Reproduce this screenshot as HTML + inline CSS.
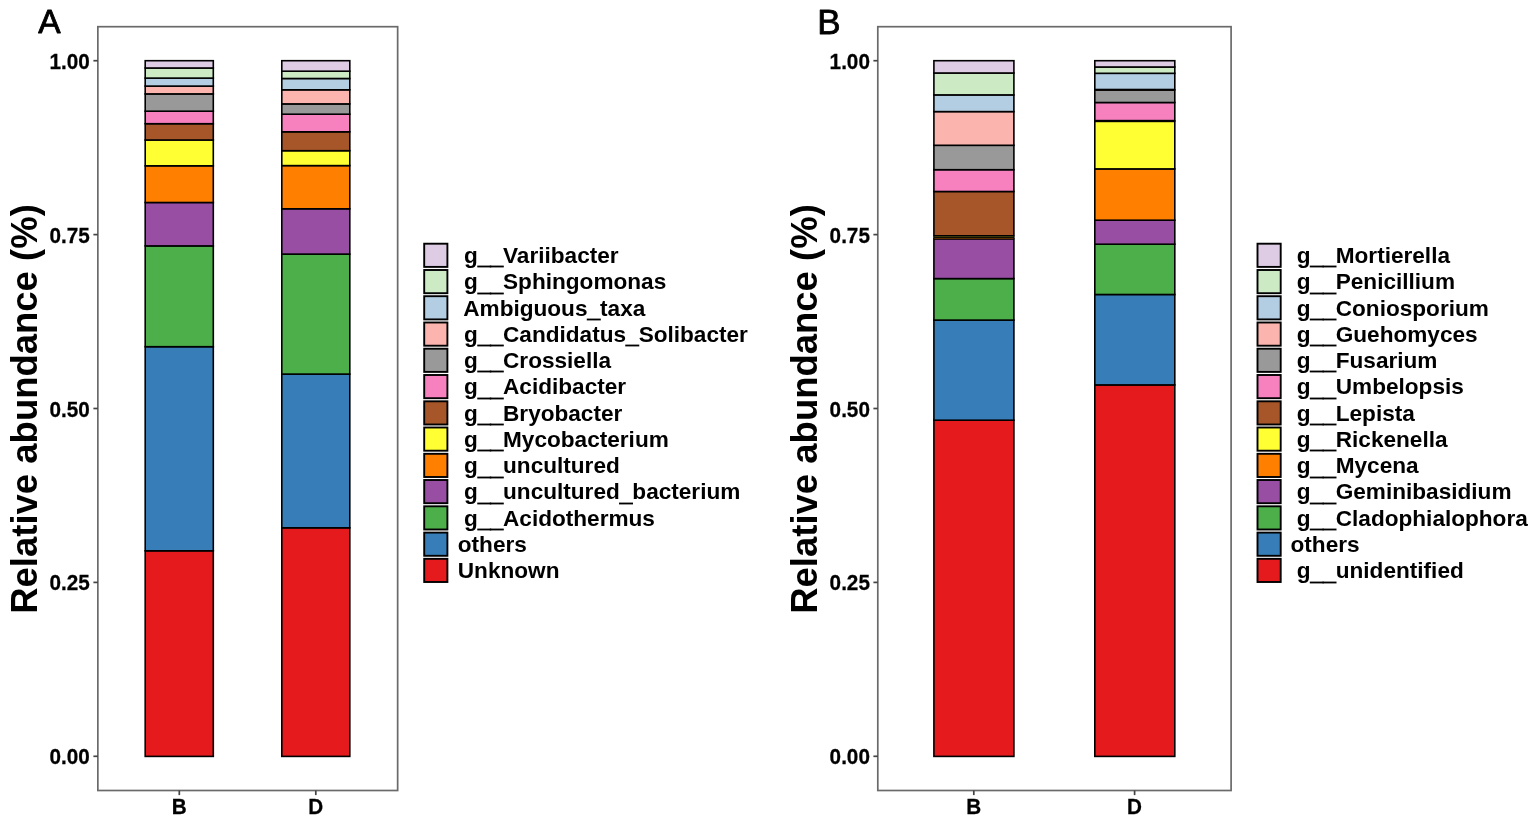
<!DOCTYPE html>
<html lang="en">
<head>
<meta charset="utf-8">
<title>Relative abundance</title>
<style>
html,body{margin:0;padding:0;background:#fff;}
body{width:1535px;height:826px;overflow:hidden;}
svg{display:block;filter:blur(0.3px);}
text{font-family:'Liberation Sans', sans-serif;fill:#000;}
.b{font-weight:bold;}
.lab{stroke:#000;stroke-width:0.8;stroke-linejoin:round;}
.tl{stroke:#000;stroke-width:0.25;}
.us{stroke:#000;stroke-width:1.0;}
.bar rect{stroke:#000;stroke-width:1.6;stroke-linejoin:miter;}
.key rect{stroke:#000;stroke-width:1.9;}
.tk{stroke:#444;stroke-width:1.7;fill:none;}
.pb{stroke:#6a6a6a;stroke-width:1.7;fill:none;}
</style>
</head>
<body>
<svg width="1535" height="826" viewBox="0 0 1535 826">
<rect x="0" y="0" width="1535" height="826" fill="#ffffff"/>

<g>
<text class="lab" font-size="33.5" x="38.3" y="33.4">A</text>
<text class="b" font-size="36.5" text-anchor="middle" transform="translate(36.6,409.0) rotate(-90) scale(1,1.011)">Relative abundance (%)</text>
<rect class="pb" x="97.85" y="26.7" width="299.8" height="763.8"/>
<line class="tk" x1="93.4" x2="97.85" y1="60.7" y2="60.7"/>
<text class="b tl" font-size="20.7" text-anchor="end" transform="translate(89.7,68.7) scale(1,1.1)">1.00</text>
<line class="tk" x1="93.4" x2="97.85" y1="234.6" y2="234.6"/>
<text class="b tl" font-size="20.7" text-anchor="end" transform="translate(89.7,242.6) scale(1,1.1)">0.75</text>
<line class="tk" x1="93.4" x2="97.85" y1="408.5" y2="408.5"/>
<text class="b tl" font-size="20.7" text-anchor="end" transform="translate(89.7,416.5) scale(1,1.1)">0.50</text>
<line class="tk" x1="93.4" x2="97.85" y1="582.4" y2="582.4"/>
<text class="b tl" font-size="20.7" text-anchor="end" transform="translate(89.7,590.4) scale(1,1.1)">0.25</text>
<line class="tk" x1="93.4" x2="97.85" y1="756.3" y2="756.3"/>
<text class="b tl" font-size="20.7" text-anchor="end" transform="translate(89.7,764.3) scale(1,1.1)">0.00</text>
<line class="tk" x1="179.3" x2="179.3" y1="790.5" y2="795.1"/>
<text class="b tl" font-size="20.7" text-anchor="middle" transform="translate(179.3,813.7) scale(1,1.1)">B</text>
<line class="tk" x1="315.8" x2="315.8" y1="790.5" y2="795.1"/>
<text class="b tl" font-size="20.7" text-anchor="middle" transform="translate(315.8,813.7) scale(1,1.1)">D</text>
<g class="bar">
<rect x="145.2" y="550.8" width="68.1" height="205.60" fill="#E41A1C"/>
<rect x="145.2" y="346.7" width="68.1" height="204.10" fill="#377EB8"/>
<rect x="145.2" y="245.9" width="68.1" height="100.80" fill="#4DAF4A"/>
<rect x="145.2" y="202.5" width="68.1" height="43.40" fill="#984EA3"/>
<rect x="145.2" y="165.8" width="68.1" height="36.70" fill="#FF7F00"/>
<rect x="145.2" y="140.0" width="68.1" height="25.80" fill="#FFFF33"/>
<rect x="145.2" y="123.7" width="68.1" height="16.30" fill="#A65628"/>
<rect x="145.2" y="111.2" width="68.1" height="12.50" fill="#F781BF"/>
<rect x="145.2" y="93.9" width="68.1" height="17.30" fill="#999999"/>
<rect x="145.2" y="86.1" width="68.1" height="7.80" fill="#FBB4AE"/>
<rect x="145.2" y="78.1" width="68.1" height="8.00" fill="#B3CDE3"/>
<rect x="145.2" y="68.0" width="68.1" height="10.10" fill="#CCEBC5"/>
<rect x="145.2" y="60.7" width="68.1" height="7.30" fill="#DECBE4"/>
</g>
<g class="bar">
<rect x="281.8" y="527.8" width="68.0" height="228.60" fill="#E41A1C"/>
<rect x="281.8" y="374.1" width="68.0" height="153.70" fill="#377EB8"/>
<rect x="281.8" y="254.1" width="68.0" height="120.00" fill="#4DAF4A"/>
<rect x="281.8" y="208.8" width="68.0" height="45.30" fill="#984EA3"/>
<rect x="281.8" y="165.6" width="68.0" height="43.20" fill="#FF7F00"/>
<rect x="281.8" y="150.7" width="68.0" height="14.90" fill="#FFFF33"/>
<rect x="281.8" y="131.8" width="68.0" height="18.90" fill="#A65628"/>
<rect x="281.8" y="114.2" width="68.0" height="17.60" fill="#F781BF"/>
<rect x="281.8" y="103.9" width="68.0" height="10.30" fill="#999999"/>
<rect x="281.8" y="89.8" width="68.0" height="14.10" fill="#FBB4AE"/>
<rect x="281.8" y="78.5" width="68.0" height="11.30" fill="#B3CDE3"/>
<rect x="281.8" y="71.2" width="68.0" height="7.30" fill="#CCEBC5"/>
<rect x="281.8" y="60.7" width="68.0" height="10.50" fill="#DECBE4"/>
</g>
<g class="key">
<rect x="424.2" y="243.7" width="23.2" height="23.2" fill="#DECBE4"/>
<text class="b" font-size="22.6" x="457.8" y="263.1" xml:space="preserve"> g<tspan class="us" dy="1.3">__</tspan><tspan dy="-1.3">Variibacter</tspan></text>
<rect x="424.2" y="270.0" width="23.2" height="23.2" fill="#CCEBC5"/>
<text class="b" font-size="22.6" x="457.8" y="289.4" xml:space="preserve"> g<tspan class="us" dy="1.3">__</tspan><tspan dy="-1.3">Sphingomonas</tspan></text>
<rect x="424.2" y="296.2" width="23.2" height="23.2" fill="#B3CDE3"/>
<text class="b" font-size="22.6" x="457.8" y="315.6" xml:space="preserve"> Ambiguous<tspan class="us" dy="1.3">_</tspan><tspan dy="-1.3">taxa</tspan></text>
<rect x="424.2" y="322.5" width="23.2" height="23.2" fill="#FBB4AE"/>
<text class="b" font-size="22.6" x="457.8" y="341.9" xml:space="preserve"> g<tspan class="us" dy="1.3">__</tspan><tspan dy="-1.3">Candidatus</tspan><tspan class="us" dy="1.3">_</tspan><tspan dy="-1.3">Solibacter</tspan></text>
<rect x="424.2" y="348.7" width="23.2" height="23.2" fill="#999999"/>
<text class="b" font-size="22.6" x="457.8" y="368.1" xml:space="preserve"> g<tspan class="us" dy="1.3">__</tspan><tspan dy="-1.3">Crossiella</tspan></text>
<rect x="424.2" y="375.0" width="23.2" height="23.2" fill="#F781BF"/>
<text class="b" font-size="22.6" x="457.8" y="394.4" xml:space="preserve"> g<tspan class="us" dy="1.3">__</tspan><tspan dy="-1.3">Acidibacter</tspan></text>
<rect x="424.2" y="401.3" width="23.2" height="23.2" fill="#A65628"/>
<text class="b" font-size="22.6" x="457.8" y="420.7" xml:space="preserve"> g<tspan class="us" dy="1.3">__</tspan><tspan dy="-1.3">Bryobacter</tspan></text>
<rect x="424.2" y="427.5" width="23.2" height="23.2" fill="#FFFF33"/>
<text class="b" font-size="22.6" x="457.8" y="446.9" xml:space="preserve"> g<tspan class="us" dy="1.3">__</tspan><tspan dy="-1.3">Mycobacterium</tspan></text>
<rect x="424.2" y="453.8" width="23.2" height="23.2" fill="#FF7F00"/>
<text class="b" font-size="22.6" x="457.8" y="473.2" xml:space="preserve"> g<tspan class="us" dy="1.3">__</tspan><tspan dy="-1.3">uncultured</tspan></text>
<rect x="424.2" y="480.0" width="23.2" height="23.2" fill="#984EA3"/>
<text class="b" font-size="22.6" x="457.8" y="499.4" xml:space="preserve"> g<tspan class="us" dy="1.3">__</tspan><tspan dy="-1.3">uncultured</tspan><tspan class="us" dy="1.3">_</tspan><tspan dy="-1.3">bacterium</tspan></text>
<rect x="424.2" y="506.3" width="23.2" height="23.2" fill="#4DAF4A"/>
<text class="b" font-size="22.6" x="457.8" y="525.7" xml:space="preserve"> g<tspan class="us" dy="1.3">__</tspan><tspan dy="-1.3">Acidothermus</tspan></text>
<rect x="424.2" y="532.6" width="23.2" height="23.2" fill="#377EB8"/>
<text class="b" font-size="22.6" x="457.8" y="552.0" xml:space="preserve">others</text>
<rect x="424.2" y="558.8" width="23.2" height="23.2" fill="#E41A1C"/>
<text class="b" font-size="22.6" x="457.8" y="578.2" xml:space="preserve">Unknown</text>
</g>
</g>
<g>
<text class="lab" font-size="35.0" x="817.2" y="34.3">B</text>
<text class="b" font-size="36.5" text-anchor="middle" transform="translate(816.6,409.0) rotate(-90) scale(1,1.011)">Relative abundance (%)</text>
<rect class="pb" x="877.8" y="26.7" width="353.3" height="763.8"/>
<line class="tk" x1="873.4" x2="877.8" y1="60.7" y2="60.7"/>
<text class="b tl" font-size="20.7" text-anchor="end" transform="translate(869.9,68.7) scale(1,1.1)">1.00</text>
<line class="tk" x1="873.4" x2="877.8" y1="234.6" y2="234.6"/>
<text class="b tl" font-size="20.7" text-anchor="end" transform="translate(869.9,242.6) scale(1,1.1)">0.75</text>
<line class="tk" x1="873.4" x2="877.8" y1="408.5" y2="408.5"/>
<text class="b tl" font-size="20.7" text-anchor="end" transform="translate(869.9,416.5) scale(1,1.1)">0.50</text>
<line class="tk" x1="873.4" x2="877.8" y1="582.4" y2="582.4"/>
<text class="b tl" font-size="20.7" text-anchor="end" transform="translate(869.9,590.4) scale(1,1.1)">0.25</text>
<line class="tk" x1="873.4" x2="877.8" y1="756.3" y2="756.3"/>
<text class="b tl" font-size="20.7" text-anchor="end" transform="translate(869.9,764.3) scale(1,1.1)">0.00</text>
<line class="tk" x1="973.8" x2="973.8" y1="790.5" y2="795.1"/>
<text class="b tl" font-size="20.7" text-anchor="middle" transform="translate(973.8,813.7) scale(1,1.1)">B</text>
<line class="tk" x1="1134.6" x2="1134.6" y1="790.5" y2="795.1"/>
<text class="b tl" font-size="20.7" text-anchor="middle" transform="translate(1134.6,813.7) scale(1,1.1)">D</text>
<g class="bar">
<rect x="933.9" y="420.2" width="80.0" height="336.20" fill="#E41A1C"/>
<rect x="933.9" y="320.1" width="80.0" height="100.10" fill="#377EB8"/>
<rect x="933.9" y="278.6" width="80.0" height="41.50" fill="#4DAF4A"/>
<rect x="933.9" y="238.9" width="80.0" height="39.70" fill="#984EA3"/>
<rect x="933.9" y="237.35" width="80.0" height="1.55" fill="#FF7F00" style="stroke-width:1"/>
<rect x="933.9" y="235.8" width="80.0" height="1.55" fill="#FFFF33" style="stroke-width:1"/>
<rect x="933.9" y="191.5" width="80.0" height="44.30" fill="#A65628"/>
<rect x="933.9" y="169.7" width="80.0" height="21.80" fill="#F781BF"/>
<rect x="933.9" y="145.3" width="80.0" height="24.40" fill="#999999"/>
<rect x="933.9" y="111.6" width="80.0" height="33.70" fill="#FBB4AE"/>
<rect x="933.9" y="94.9" width="80.0" height="16.70" fill="#B3CDE3"/>
<rect x="933.9" y="73.0" width="80.0" height="21.90" fill="#CCEBC5"/>
<rect x="933.9" y="60.7" width="80.0" height="12.30" fill="#DECBE4"/>
</g>
<g class="bar">
<rect x="1094.8" y="384.9" width="80.0" height="371.50" fill="#E41A1C"/>
<rect x="1094.8" y="294.5" width="80.0" height="90.40" fill="#377EB8"/>
<rect x="1094.8" y="244.2" width="80.0" height="50.30" fill="#4DAF4A"/>
<rect x="1094.8" y="220.2" width="80.0" height="24.00" fill="#984EA3"/>
<rect x="1094.8" y="168.9" width="80.0" height="51.30" fill="#FF7F00"/>
<rect x="1094.8" y="121.4" width="80.0" height="47.50" fill="#FFFF33"/>
<rect x="1094.8" y="120.6" width="80.0" height="0.80" fill="#A65628" style="stroke-width:1"/>
<rect x="1094.8" y="102.5" width="80.0" height="18.10" fill="#F781BF"/>
<rect x="1094.8" y="90.2" width="80.0" height="12.30" fill="#999999"/>
<rect x="1094.8" y="89.5" width="80.0" height="0.70" fill="#FBB4AE" style="stroke-width:1"/>
<rect x="1094.8" y="73.3" width="80.0" height="16.20" fill="#B3CDE3"/>
<rect x="1094.8" y="67.0" width="80.0" height="6.30" fill="#CCEBC5"/>
<rect x="1094.8" y="60.7" width="80.0" height="6.30" fill="#DECBE4"/>
</g>
<g class="key">
<rect x="1257.5" y="243.7" width="23.2" height="23.2" fill="#DECBE4"/>
<text class="b" font-size="22.6" x="1290.5" y="263.1" xml:space="preserve"> g<tspan class="us" dy="1.3">__</tspan><tspan dy="-1.3">Mortierella</tspan></text>
<rect x="1257.5" y="270.0" width="23.2" height="23.2" fill="#CCEBC5"/>
<text class="b" font-size="22.6" x="1290.5" y="289.4" xml:space="preserve"> g<tspan class="us" dy="1.3">__</tspan><tspan dy="-1.3">Penicillium</tspan></text>
<rect x="1257.5" y="296.2" width="23.2" height="23.2" fill="#B3CDE3"/>
<text class="b" font-size="22.6" x="1290.5" y="315.6" xml:space="preserve"> g<tspan class="us" dy="1.3">__</tspan><tspan dy="-1.3">Coniosporium</tspan></text>
<rect x="1257.5" y="322.5" width="23.2" height="23.2" fill="#FBB4AE"/>
<text class="b" font-size="22.6" x="1290.5" y="341.9" xml:space="preserve"> g<tspan class="us" dy="1.3">__</tspan><tspan dy="-1.3">Guehomyces</tspan></text>
<rect x="1257.5" y="348.7" width="23.2" height="23.2" fill="#999999"/>
<text class="b" font-size="22.6" x="1290.5" y="368.1" xml:space="preserve"> g<tspan class="us" dy="1.3">__</tspan><tspan dy="-1.3">Fusarium</tspan></text>
<rect x="1257.5" y="375.0" width="23.2" height="23.2" fill="#F781BF"/>
<text class="b" font-size="22.6" x="1290.5" y="394.4" xml:space="preserve"> g<tspan class="us" dy="1.3">__</tspan><tspan dy="-1.3">Umbelopsis</tspan></text>
<rect x="1257.5" y="401.3" width="23.2" height="23.2" fill="#A65628"/>
<text class="b" font-size="22.6" x="1290.5" y="420.7" xml:space="preserve"> g<tspan class="us" dy="1.3">__</tspan><tspan dy="-1.3">Lepista</tspan></text>
<rect x="1257.5" y="427.5" width="23.2" height="23.2" fill="#FFFF33"/>
<text class="b" font-size="22.6" x="1290.5" y="446.9" xml:space="preserve"> g<tspan class="us" dy="1.3">__</tspan><tspan dy="-1.3">Rickenella</tspan></text>
<rect x="1257.5" y="453.8" width="23.2" height="23.2" fill="#FF7F00"/>
<text class="b" font-size="22.6" x="1290.5" y="473.2" xml:space="preserve"> g<tspan class="us" dy="1.3">__</tspan><tspan dy="-1.3">Mycena</tspan></text>
<rect x="1257.5" y="480.0" width="23.2" height="23.2" fill="#984EA3"/>
<text class="b" font-size="22.6" x="1290.5" y="499.4" xml:space="preserve"> g<tspan class="us" dy="1.3">__</tspan><tspan dy="-1.3">Geminibasidium</tspan></text>
<rect x="1257.5" y="506.3" width="23.2" height="23.2" fill="#4DAF4A"/>
<text class="b" font-size="22.6" x="1290.5" y="525.7" xml:space="preserve"> g<tspan class="us" dy="1.3">__</tspan><tspan dy="-1.3">Cladophialophora</tspan></text>
<rect x="1257.5" y="532.6" width="23.2" height="23.2" fill="#377EB8"/>
<text class="b" font-size="22.6" x="1290.5" y="552.0" xml:space="preserve">others</text>
<rect x="1257.5" y="558.8" width="23.2" height="23.2" fill="#E41A1C"/>
<text class="b" font-size="22.6" x="1290.5" y="578.2" xml:space="preserve"> g<tspan class="us" dy="1.3">__</tspan><tspan dy="-1.3">unidentified</tspan></text>
</g>
</g>
</svg>
</body>
</html>
